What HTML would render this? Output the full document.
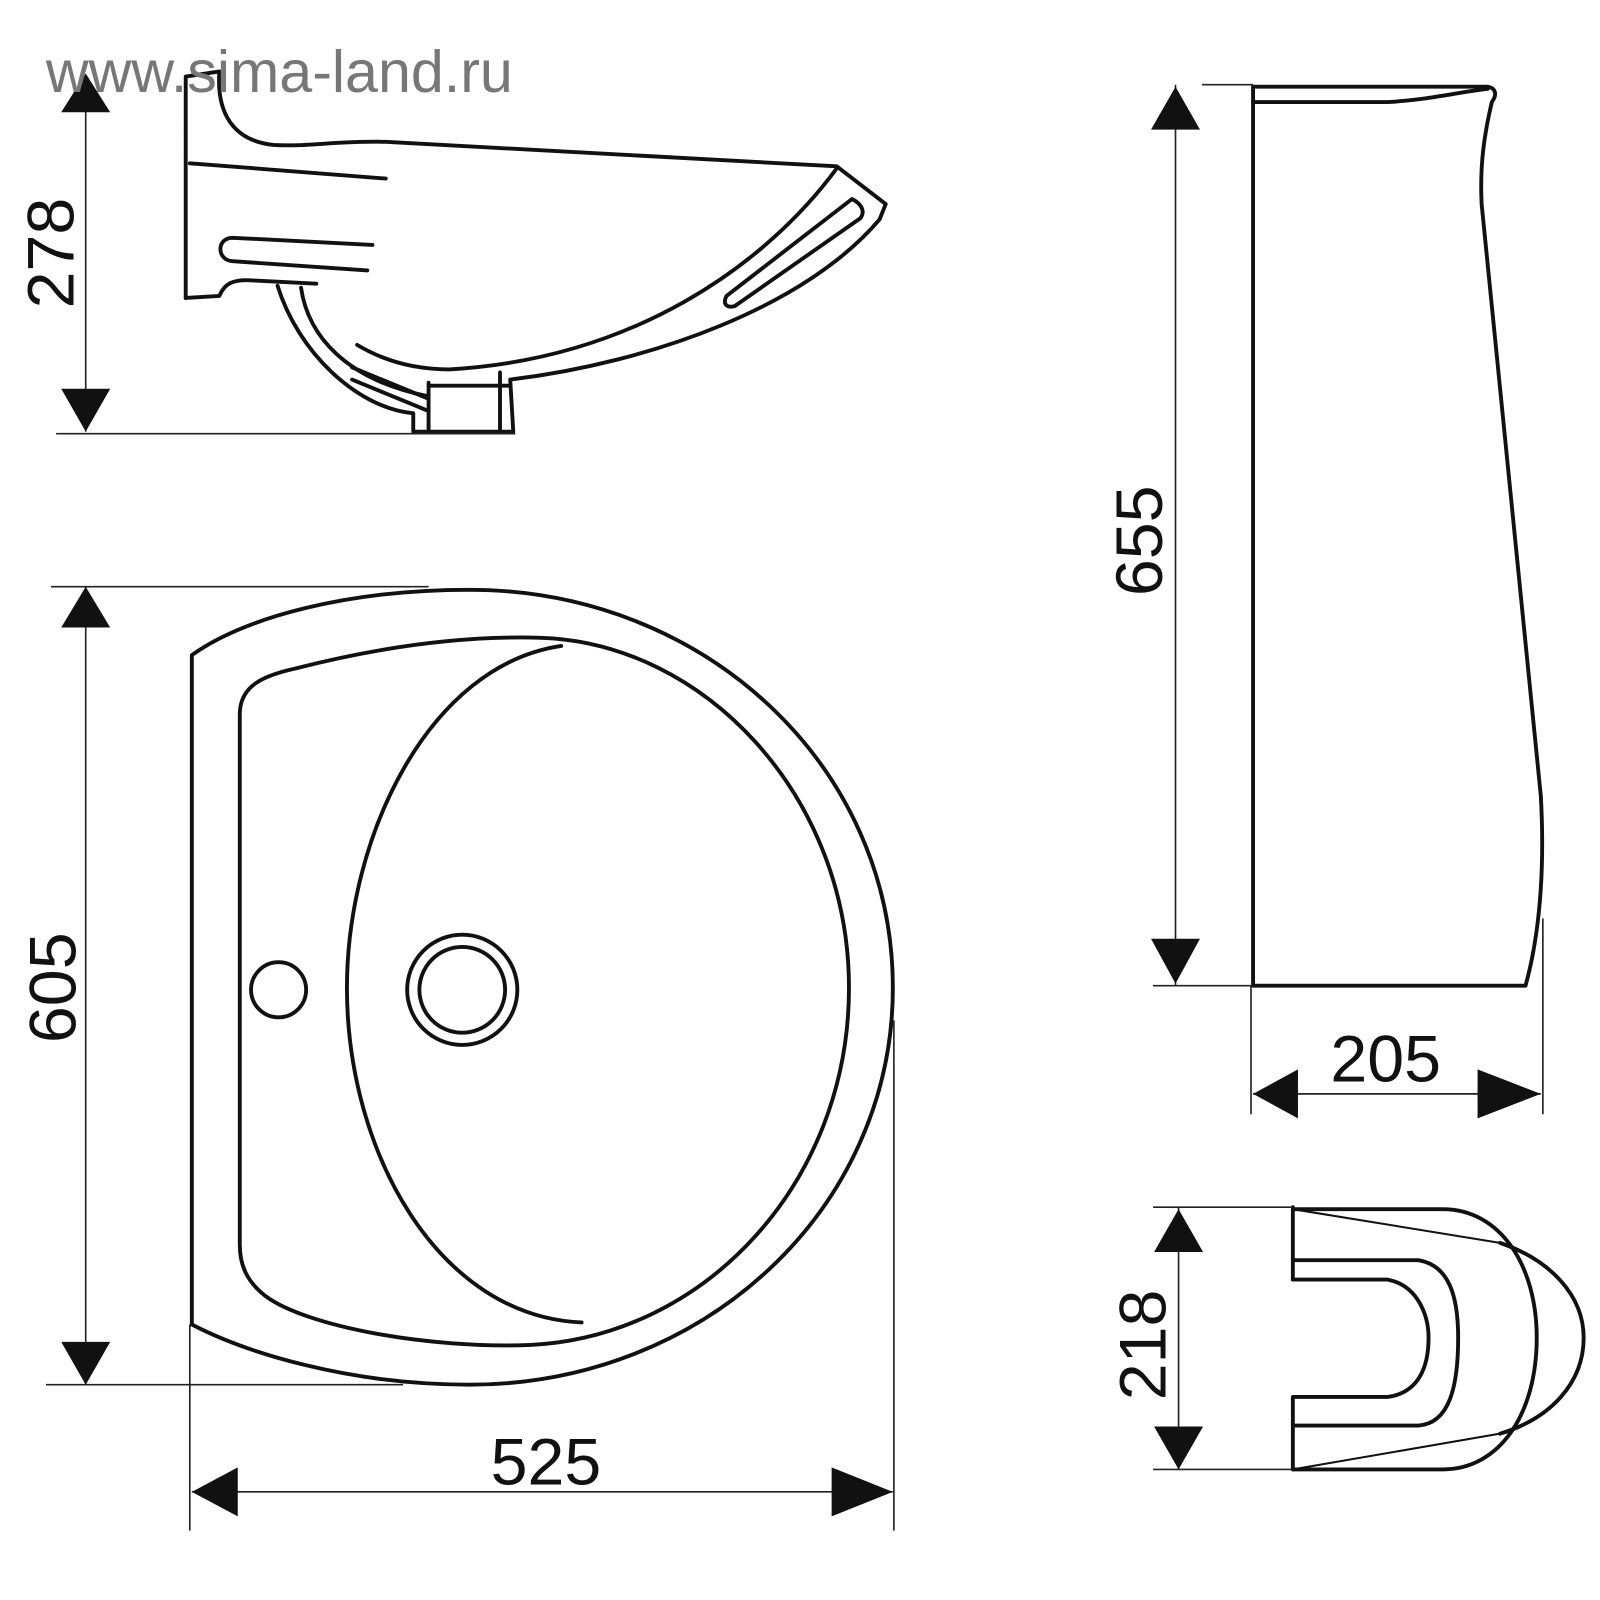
<!DOCTYPE html>
<html><head><meta charset="utf-8"><style>html,body{margin:0;padding:0;background:#fff}svg{display:block}</style></head>
<body>
<svg width="1600" height="1600" viewBox="0 0 1568 1568" xmlns="http://www.w3.org/2000/svg">
<g fill="none" stroke="#111" stroke-width="3.8" stroke-linejoin="round" stroke-linecap="round">
<!-- side view -->
<path d="M182,292 L182,75 L215,70 C212,110 228,138 268,142 C300,144 330,138 378,139 L820,163 L868,200 L862,215 C790,300 640,355 500,372 L503,423 L405,423 L405,405 C350,400 292,345 272,280"/>
<path d="M182,292 L215,290 C220,278 228,273 250,275 L310,278"/>
<path d="M295,282 C302,330 340,372 418,388"/>
<path d="M820,165 C750,260 620,352 440,362 C400,362 370,350 350,338"/>
<path d="M420,375 L420,423 M420,378 L500,378 M490,365 L490,423"/>
<path d="M345,360 L418,390 M345,372 L418,402"/>
<path d="M835,195 C845,200 848,208 843,214 L720,300 C712,302 708,298 712,290 Z"/>
<path d="M186,160 L378,175"/>
<path d="M365,240 L228,233 C212,233 212,255 228,256 L360,265"/>
<!-- top view -->
<path d="M188,642 C240,605 340,578 460,578 C690,578 875,750 875,968 C875,1185 690,1357 460,1357 C340,1357 240,1325 188,1298 Z"/>
<path d="M235,700 C235,672 258,662 290,655 C380,632 460,623 530,625 C690,630 832,780 832,968 C832,1160 690,1310 520,1318 C420,1322 300,1300 260,1270 C242,1256 235,1240 235,1220 Z"/>
<path d="M550,633 C420,652 340,820 340,968 C340,1130 430,1290 570,1296"/>
<circle cx="273" cy="970" r="27"/>
<circle cx="453" cy="970" r="54"/>
<circle cx="453" cy="970" r="42"/>
<!-- pedestal side -->
<path d="M1228,85 L1228,966 L1495,966 C1505,930 1515,870 1510,780 L1452,200 C1450,160 1455,130 1462,100 C1468,92 1465,86 1458,85 Z"/>
<path d="M1230,100 L1360,100 C1400,98 1430,90 1458,87"/>
<!-- pedestal top -->
<path d="M1267,1183 L1267,1254 L1360,1254 C1390,1260 1400,1290 1400,1311 C1400,1340 1390,1365 1360,1369 L1267,1369 L1267,1440"/>
<path d="M1267,1235 L1390,1235 C1420,1240 1429,1270 1429,1311 C1429,1360 1420,1395 1390,1397 L1267,1397"/>
<path d="M1267,1185 L1414,1185 C1470,1185 1506,1240 1506,1311 C1506,1385 1470,1440 1414,1440 L1267,1440"/>
<path d="M1470,1218 C1520,1235 1552,1270 1552,1311 C1552,1355 1520,1390 1470,1405"/>
<path d="M1267,1185 L1470,1218 M1267,1440 L1470,1405" stroke-width="2"/>
</g>
<g stroke="#222" stroke-width="1.6" fill="none">
<path d="M84,75 L84,423 M55,425 L505,425"/>
<path d="M84,575 L84,1357 M50,575 L420,575 M45,1357 L395,1357"/>
<path d="M188,1462 L875,1462 M186,1298 L186,1500 M876,1000 L876,1500"/>
<path d="M1152,83 L1152,966 M1178,83 L1228,83 M1130,966 L1228,966"/>
<path d="M1228,1072 L1510,1072 M1226,966 L1226,1092 M1512,900 L1512,1092"/>
<path d="M1155,1183 L1155,1440 M1130,1183 L1267,1183 M1130,1440 L1267,1440"/>
</g>
<g fill="#111">
<polygon points="84,72 60,110 108,110"/><polygon points="84,423 60,381 108,381"/>
<polygon points="84,575 60,615 108,615"/><polygon points="84,1357 60,1315 108,1315"/>
<polygon points="188,1462 233,1438 233,1486"/><polygon points="875,1462 815,1438 815,1486"/>
<polygon points="1152,85 1128,127 1176,127"/><polygon points="1152,964 1128,920 1176,920"/>
<polygon points="1228,1072 1272,1048 1272,1096"/><polygon points="1510,1072 1448,1048 1448,1096"/>
<polygon points="1155,1185 1131,1227 1179,1227"/><polygon points="1155,1440 1131,1398 1179,1398"/>
</g>
<g font-family="Liberation Sans, sans-serif" font-size="65" fill="#111" text-anchor="middle">
<text transform="translate(72,248) rotate(-90)">278</text>
<text transform="translate(74,968) rotate(-90)">605</text>
<text x="535" y="1455">525</text>
<text transform="translate(1139,530) rotate(-90)">655</text>
<text x="1358" y="1060">205</text>
<text transform="translate(1142,1318) rotate(-90)">218</text>
</g>
<text x="45" y="90" font-family="Liberation Sans, sans-serif" font-size="58" fill="#777">www.sima-land.ru</text>
</svg>
</body></html>
